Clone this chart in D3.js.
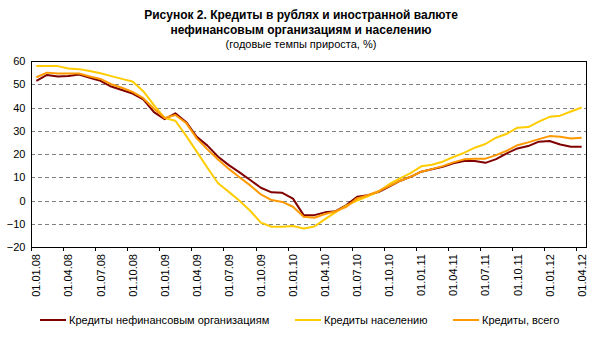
<!DOCTYPE html>
<html><head><meta charset="utf-8">
<script src="https://cdn.jsdelivr.net/npm/d3@7"></script>
<style>body{margin:0;background:#fff}svg{display:block}text{font-family:"Liberation Sans",Arial,sans-serif}</style>
</head><body><svg id="c" width="601" height="340"></svg>
<script>
const titleLines = ["Рисунок 2. Кредиты в рублях и иностранной валюте", "нефинансовым организациям и населению"];
const subtitle = "(годовые темпы прироста, %)";
const categories = ["01.01.08","01.02.08","01.03.08","01.04.08","01.05.08","01.06.08","01.07.08","01.08.08","01.09.08","01.10.08","01.11.08","01.12.08",
"01.01.09","01.02.09","01.03.09","01.04.09","01.05.09","01.06.09","01.07.09","01.08.09","01.09.09","01.10.09","01.11.09","01.12.09",
"01.01.10","01.02.10","01.03.10","01.04.10","01.05.10","01.06.10","01.07.10","01.08.10","01.09.10","01.10.10","01.11.10","01.12.10",
"01.01.11","01.02.11","01.03.11","01.04.11","01.05.11","01.06.11","01.07.11","01.08.11","01.09.11","01.10.11","01.11.11","01.12.11",
"01.01.12","01.02.12","01.03.12","01.04.12"];
const seriesNames = ["Кредиты нефинансовым организациям", "Кредиты населению", "Кредиты, всего"];
const orgs = [51.5,54,53.3,53.5,54.2,52.8,51.5,49,47.5,46,43.5,38,
35,37.5,33.8,27.4,23.6,18.8,15.2,12.1,8.8,5.5,3.5,3.3,
0.8,-6.3,-6.3,-5.1,-4.6,-2,1.6,2.3,3.6,6,8.4,10.2,
12.4,13.4,14.5,16,17,17,16.2,17.8,20.3,22.4,23.4,25.3,
25.6,24.1,23.1,23.1];
const households = [57.8,57.8,57.8,56.8,56.5,55.7,54.7,53.5,52.3,51.2,47,41,
35.5,34.3,27.9,21,14.1,7.4,3.7,-0.1,-4.4,-9.5,-11.3,-11.3,
-11,-12,-11.2,-8,-5,-2.2,0,1.8,3.8,7,9.5,11.8,
14.7,15.4,16.7,18.7,20.5,22.7,24.3,27,28.7,31.3,31.6,33.9,
36,36.5,38.3,40];
const total = [53,55,54.6,54.6,54.6,53.3,52.3,50,48.5,46.7,44,39.5,
35.5,36.8,33.4,26.7,22,17.6,13.6,10,6.5,2.6,0.2,-0.6,
-2.7,-7,-7.4,-5.8,-4.6,-2.7,0.9,2.3,4,6.2,8.4,10.2,
12.4,13.5,14.8,16.4,17.7,18,18,19.5,21.4,23.8,25,26.4,
27.7,27.4,26.7,27];
const yTicks = [-20,-10,0,10,20,30,40,50,60];
const colors = ["#800000", "#FFCC00", "#FF9900"];

const svg = d3.select("#c");
const L = 31, R = 587, T = 61, B = 247;
const x = d3.scaleBand().domain(categories).range([L, R]).paddingInner(0).paddingOuter(0);
const y = d3.scaleLinear().domain([-20, 60]).range([B, T]);

// title
const tt = svg.append("g").attr("text-anchor", "middle");
titleLines.forEach((t, i) => tt.append("text").attr("x", 301).attr("y", 19 + i * 15)
  .attr("font-size", 12).attr("font-weight", "bold").text(t));
tt.append("text").attr("x", 301).attr("y", 48).attr("font-size", 11).text(subtitle);

// gridlines
svg.append("g").selectAll("line").data(yTicks.filter(v => v > -20 && v < 60)).join("line")
  .attr("x1", L).attr("x2", R).attr("y1", d => Math.round(y(d)) + 0.5).attr("y2", d => Math.round(y(d)) + 0.5)
  .attr("stroke", "#808080").attr("stroke-dasharray", "4,3");

// frame
svg.append("rect").attr("x", L + 0.5).attr("y", T + 0.5).attr("width", R - L - 1).attr("height", B - T)
  .attr("fill", "none").attr("stroke", "#000");

// y axis
const ya = svg.append("g").attr("transform", `translate(${L + 0.5},0)`)
  .call(d3.axisLeft(y).tickValues(yTicks).tickSize(0).tickPadding(6));
ya.select(".domain").remove();
ya.selectAll("text").attr("font-size", 11).attr("font-family", "Liberation Sans, Arial").attr("fill", "#000");

// x axis ticks at category boundaries every 3
const tickCats = categories.filter((d, i) => i % 3 === 0);
const xg = svg.append("g");
xg.selectAll("line").data(tickCats).join("line")
  .attr("x1", d => Math.round(x(d)) + 0.5).attr("x2", d => Math.round(x(d)) + 0.5)
  .attr("y1", B).attr("y2", B + 4).attr("stroke", "#000");
xg.selectAll("text").data(tickCats).join("text")
  .attr("transform", d => `translate(${x(d) + x.bandwidth() / 2 + 4},${B + 7}) rotate(-90)`)
  .attr("text-anchor", "end").attr("font-size", 11).text(d => d);

// lines
const data = [orgs, households, total];
const line = d3.line().x((d, i) => x(categories[i]) + x.bandwidth() / 2).y(d => y(d));
svg.append("g").selectAll("path").data(data).join("path")
  .attr("d", d => line(d)).attr("fill", "none").attr("stroke", (d, i) => colors[i])
  .attr("stroke-width", 2).attr("stroke-linejoin", "round");

// legend
const legX = [40, 295, 453];
const lg = svg.append("g");
seriesNames.forEach((n, i) => {
  lg.append("line").attr("x1", legX[i]).attr("x2", legX[i] + 26).attr("y1", 320).attr("y2", 320)
    .attr("stroke", colors[i]).attr("stroke-width", 2);
  lg.append("text").attr("x", legX[i] + 29).attr("y", 324).attr("font-size", 11).text(n);
});
</script></body></html>
